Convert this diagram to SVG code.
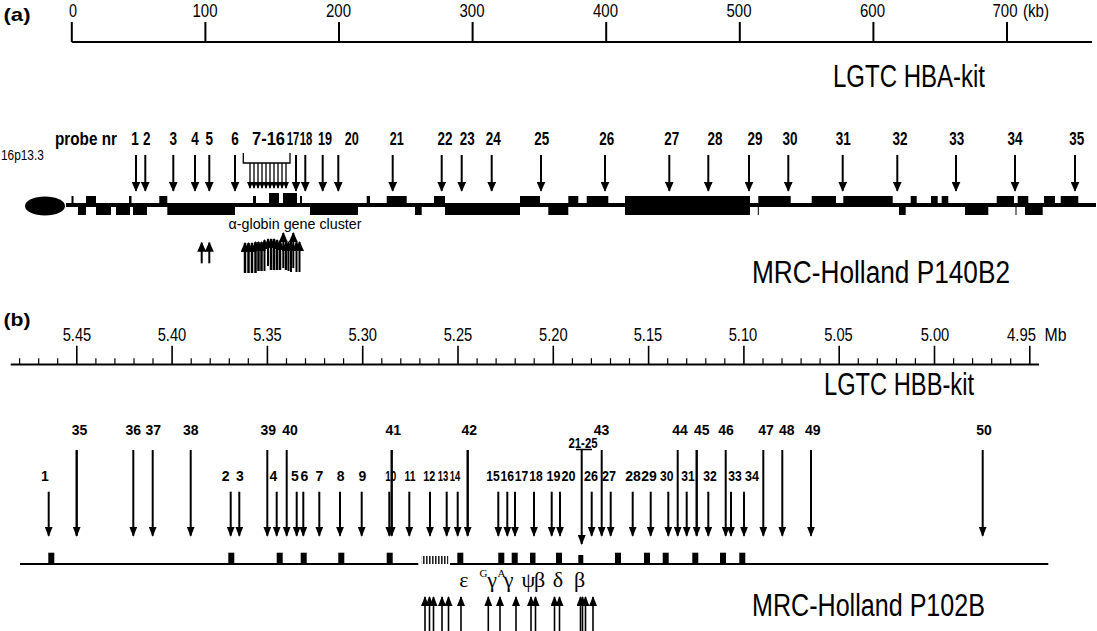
<svg xmlns="http://www.w3.org/2000/svg" width="1097" height="631" viewBox="0 0 1097 631">
<defs>
<style>
text{font-family:"Liberation Sans",Arial,sans-serif;fill:#000}
.pl{font-weight:bold;font-size:19px}
.ax{font-size:18px;text-anchor:middle}
.na{font-weight:bold;font-size:18px;text-anchor:middle}
.nb{font-weight:bold;font-size:14px;text-anchor:middle}
.chr{font-size:15px}
.glob{font-size:14px;text-anchor:middle}
.big{font-size:31px}
.gk{font-family:"Liberation Serif","Times New Roman",serif;font-size:22px;text-anchor:middle}
.sup{font-family:"Liberation Serif","Times New Roman",serif;font-size:11px}
.ln{stroke:#000;fill:none}
.aa{stroke:#000;stroke-width:2;marker-end:url(#ah)}
.as{stroke:#000;stroke-width:1.3;marker-end:url(#sh)}
.au{stroke:#000;stroke-width:2.5;marker-end:url(#ah)}
.ab{stroke:#000;stroke-width:2;marker-end:url(#bh)}
.abl{stroke:#000;stroke-width:2.4;marker-end:url(#bh)}
.bu{stroke:#000;stroke-width:1.6;marker-end:url(#bh)}
</style>
<marker id="ah" markerUnits="userSpaceOnUse" markerWidth="10" markerHeight="9" refX="9" refY="4.5" orient="auto" viewBox="0 0 10 9"><path d="M0,0L10,4.5L0,9z"/></marker>
<marker id="bh" markerUnits="userSpaceOnUse" markerWidth="10" markerHeight="8" refX="9" refY="4" orient="auto" viewBox="0 0 10 8"><path d="M0,0L10,4L0,8z"/></marker>
<marker id="sh" markerUnits="userSpaceOnUse" markerWidth="7" markerHeight="6" refX="6" refY="3" orient="auto" viewBox="0 0 7 6"><path d="M0,0L7,3L0,6z"/></marker>
<pattern id="hatch" width="3" height="10" patternUnits="userSpaceOnUse"><rect width="1.6" height="10" fill="#222"/></pattern>
</defs>
<rect width="1097" height="631" fill="#fff"/>

<!-- ===== Panel (a) ===== -->
<g id="panel-a-label"><text class="pl" x="3.5" y="21" textLength="27" lengthAdjust="spacingAndGlyphs">(a)</text></g>
<g id="scale-a">
<path class="ln" stroke-width="2" d="M71.8,42H1092M71.8,22V42M205.4,22V42M339,22V42M472.6,22V42M606.2,22V42M739.8,22V42M873.4,22V42M1007,22V42"/>
<text class="ax" x="73" y="17" textLength="8" lengthAdjust="spacingAndGlyphs">0</text>
<text class="ax" x="205" y="17" textLength="25" lengthAdjust="spacingAndGlyphs">100</text>
<text class="ax" x="338.5" y="17" textLength="25" lengthAdjust="spacingAndGlyphs">200</text>
<text class="ax" x="472" y="17" textLength="25" lengthAdjust="spacingAndGlyphs">300</text>
<text class="ax" x="605.5" y="17" textLength="25" lengthAdjust="spacingAndGlyphs">400</text>
<text class="ax" x="739" y="17" textLength="25" lengthAdjust="spacingAndGlyphs">500</text>
<text class="ax" x="872.5" y="17" textLength="25" lengthAdjust="spacingAndGlyphs">600</text>
<text class="ax" x="1005" y="17" textLength="25" lengthAdjust="spacingAndGlyphs">700</text>
<text class="ax" x="1036" y="17" textLength="26" lengthAdjust="spacingAndGlyphs">(kb)</text>
</g>
<g id="kit-hba"><text class="big" x="833" y="87" textLength="152" lengthAdjust="spacingAndGlyphs">LGTC HBA-kit</text></g>

<g id="probe-labels-a">
<text class="na" x="86" y="145" textLength="62" lengthAdjust="spacingAndGlyphs">probe nr</text>
<text class="chr" transform="translate(1,160) scale(0.79,1)">16p13.3</text>
<text class="na" x="135" y="145" textLength="7.5" lengthAdjust="spacingAndGlyphs">1</text>
<text class="na" x="146.7" y="145" textLength="7.5" lengthAdjust="spacingAndGlyphs">2</text>
<text class="na" x="173.3" y="145" textLength="7.5" lengthAdjust="spacingAndGlyphs">3</text>
<text class="na" x="195" y="145" textLength="7.5" lengthAdjust="spacingAndGlyphs">4</text>
<text class="na" x="209.3" y="145" textLength="7.5" lengthAdjust="spacingAndGlyphs">5</text>
<text class="na" x="235" y="145" textLength="7.5" lengthAdjust="spacingAndGlyphs">6</text>
<text class="na" x="268.5" y="145" textLength="33" lengthAdjust="spacingAndGlyphs">7-16</text>
<text class="na" x="293" y="145" textLength="12.5" lengthAdjust="spacingAndGlyphs">17</text>
<text class="na" x="306" y="145" textLength="12.5" lengthAdjust="spacingAndGlyphs">18</text>
<text class="na" x="325" y="145" textLength="14" lengthAdjust="spacingAndGlyphs">19</text>
<text class="na" x="351.7" y="145" textLength="14" lengthAdjust="spacingAndGlyphs">20</text>
<text class="na" x="396.7" y="145" textLength="14" lengthAdjust="spacingAndGlyphs">21</text>
<text class="na" x="445" y="145" textLength="15" lengthAdjust="spacingAndGlyphs">22</text>
<text class="na" x="467.3" y="145" textLength="15" lengthAdjust="spacingAndGlyphs">23</text>
<text class="na" x="493.3" y="145" textLength="15" lengthAdjust="spacingAndGlyphs">24</text>
<text class="na" x="541.7" y="145" textLength="15" lengthAdjust="spacingAndGlyphs">25</text>
<text class="na" x="606.7" y="145" textLength="15" lengthAdjust="spacingAndGlyphs">26</text>
<text class="na" x="671.7" y="145" textLength="15" lengthAdjust="spacingAndGlyphs">27</text>
<text class="na" x="715" y="145" textLength="15" lengthAdjust="spacingAndGlyphs">28</text>
<text class="na" x="755" y="145" textLength="15" lengthAdjust="spacingAndGlyphs">29</text>
<text class="na" x="790" y="145" textLength="15" lengthAdjust="spacingAndGlyphs">30</text>
<text class="na" x="843.3" y="145" textLength="15" lengthAdjust="spacingAndGlyphs">31</text>
<text class="na" x="900" y="145" textLength="15" lengthAdjust="spacingAndGlyphs">32</text>
<text class="na" x="956.7" y="145" textLength="15" lengthAdjust="spacingAndGlyphs">33</text>
<text class="na" x="1015" y="145" textLength="15" lengthAdjust="spacingAndGlyphs">34</text>
<text class="na" x="1076.7" y="145" textLength="15" lengthAdjust="spacingAndGlyphs">35</text>
</g>

<g id="chromosome-a">
<ellipse cx="45" cy="206" rx="20" ry="9.5" fill="#000"/>
<rect x="66" y="203" width="1030" height="4" fill="#000"/>
<g fill="#000">
<rect x="71.5" y="196" width="2" height="9"/>
<rect x="78" y="205" width="8" height="10"/>
<rect x="86" y="196" width="10" height="9"/>
<rect x="96" y="205" width="15" height="10"/>
<rect x="116" y="205" width="14" height="10"/>
<rect x="129" y="196" width="2.5" height="9"/>
<rect x="133" y="205" width="14" height="10"/>
<rect x="159.3" y="196" width="8" height="9"/>
<rect x="167.3" y="205" width="67.7" height="10"/>
<rect x="253" y="196" width="3" height="9"/>
<rect x="269" y="193" width="10" height="12"/>
<rect x="283" y="193" width="14" height="12"/>
<rect x="300" y="196" width="2" height="9"/>
<rect x="310" y="205" width="48" height="10"/>
<rect x="366.7" y="196" width="3.3" height="9"/>
<rect x="386.7" y="196" width="20" height="9"/>
<rect x="415" y="205" width="6.7" height="10"/>
<rect x="434" y="196" width="11" height="9"/>
<rect x="445" y="205" width="75" height="10"/>
<rect x="520" y="196" width="20" height="9"/>
<rect x="548.3" y="205" width="20" height="10"/>
<rect x="568.3" y="196" width="10" height="9"/>
<rect x="586.7" y="196" width="21.6" height="9"/>
<rect x="625" y="196" width="125" height="19"/>
<rect x="757.8" y="205" width="1" height="10"/>
<rect x="758.3" y="196" width="32.4" height="9"/>
<rect x="811.7" y="196" width="24.3" height="9"/>
<rect x="843.3" y="196" width="49.4" height="9"/>
<rect x="899" y="205" width="6.7" height="10"/>
<rect x="910.7" y="196" width="6" height="9"/>
<rect x="931" y="196" width="6.7" height="9"/>
<rect x="941.7" y="196" width="6.6" height="9"/>
<rect x="965" y="205" width="23.3" height="10"/>
<rect x="996.7" y="196" width="17.3" height="9"/>
<rect x="1015.5" y="205" width="1" height="10"/>
<rect x="1017.7" y="196" width="10.6" height="9"/>
<rect x="1025" y="205" width="17.7" height="10"/>
<rect x="1044" y="196" width="11" height="9"/>
<rect x="1060.7" y="196" width="17.6" height="9"/>
</g>
<text class="glob" x="295" y="229" textLength="133" lengthAdjust="spacingAndGlyphs">α-globin gene cluster</text>
</g>

<g id="mrc-p140b2"><text class="big" x="752" y="283" textLength="258" lengthAdjust="spacingAndGlyphs">MRC-Holland P140B2</text></g>

<g id="connectors-a">
<line class="aa" x1="136" y1="155" x2="136" y2="190.7"/>
<line class="aa" x1="145.3" y1="155" x2="145.3" y2="190.7"/>
<line class="aa" x1="173.3" y1="155" x2="173.3" y2="190.7"/>
<line class="aa" x1="195" y1="155" x2="195" y2="190.7"/>
<line class="aa" x1="209.3" y1="155" x2="209.3" y2="190.7"/>
<line class="aa" x1="235" y1="155" x2="235" y2="190.7"/>
<line class="aa" x1="296" y1="155" x2="296" y2="190.7"/>
<line class="aa" x1="305.3" y1="155" x2="305.3" y2="190.7"/>
<line class="aa" x1="322.7" y1="155" x2="322.7" y2="190.7"/>
<line class="aa" x1="338.3" y1="155" x2="338.3" y2="190.7"/>
<line class="aa" x1="392.7" y1="155" x2="392.7" y2="190.7"/>
<line class="aa" x1="441.7" y1="155" x2="441.7" y2="190.7"/>
<line class="aa" x1="461.7" y1="155" x2="461.7" y2="190.7"/>
<line class="aa" x1="491.7" y1="155" x2="491.7" y2="190.7"/>
<line class="aa" x1="541" y1="155" x2="541" y2="190.7"/>
<line class="aa" x1="605" y1="155" x2="605" y2="190.7"/>
<line class="aa" x1="669.3" y1="155" x2="669.3" y2="190.7"/>
<line class="aa" x1="708.3" y1="155" x2="708.3" y2="190.7"/>
<line class="aa" x1="749" y1="155" x2="749" y2="190.7"/>
<line class="aa" x1="788.3" y1="155" x2="788.3" y2="190.7"/>
<line class="aa" x1="842.7" y1="155" x2="842.7" y2="190.7"/>
<line class="aa" x1="897.3" y1="155" x2="897.3" y2="190.7"/>
<line class="aa" x1="956" y1="155" x2="956" y2="190.7"/>
<line class="aa" x1="1015" y1="155" x2="1015" y2="190.7"/>
<line class="aa" x1="1075" y1="155" x2="1075" y2="190.7"/>
<path class="ln" stroke-width="1.3" d="M243.3,153V163H290V153"/>
<line class="as" x1="250" y1="163" x2="250" y2="188"/>
<line class="as" x1="254" y1="163" x2="254" y2="188"/>
<line class="as" x1="258" y1="163" x2="258" y2="188"/>
<line class="as" x1="262" y1="163" x2="262" y2="188"/>
<line class="as" x1="266" y1="163" x2="266" y2="188"/>
<line class="as" x1="270" y1="163" x2="270" y2="188"/>
<line class="as" x1="274" y1="163" x2="274" y2="188"/>
<line class="as" x1="278" y1="163" x2="278" y2="188"/>
<line class="as" x1="282" y1="163" x2="282" y2="188"/>
<line class="as" x1="286" y1="163" x2="286" y2="188"/>
<line class="aa" x1="201.7" y1="263.3" x2="201.7" y2="242.7"/>
<line class="aa" x1="209.3" y1="263.3" x2="209.3" y2="242.7"/>
<line class="au" x1="245" y1="273" x2="245" y2="243"/>
<line class="au" x1="248.5" y1="273" x2="248.5" y2="243"/>
<line class="au" x1="252" y1="273" x2="252" y2="243"/>
<line class="au" x1="255.5" y1="273" x2="255.5" y2="242"/>
<line class="au" x1="258.5" y1="271" x2="258.5" y2="242"/>
<line class="au" x1="261.5" y1="271" x2="261.5" y2="242"/>
<line class="aa" x1="264.5" y1="271" x2="264.5" y2="240"/>
<line class="aa" x1="268" y1="266" x2="268" y2="239"/>
<line class="au" x1="271" y1="270" x2="271" y2="239"/>
<line class="au" x1="274" y1="270" x2="274" y2="239"/>
<line class="au" x1="277" y1="270" x2="277" y2="240"/>
<line class="au" x1="280" y1="270" x2="280" y2="241"/>
<line class="aa" x1="283.3" y1="268" x2="283.3" y2="233"/>
<line class="au" x1="286" y1="270" x2="286" y2="242"/>
<line class="aa" x1="288.5" y1="271" x2="288.5" y2="242"/>
<line class="aa" x1="291" y1="272" x2="291" y2="242"/>
<line class="aa" x1="293.3" y1="268" x2="293.3" y2="233"/>
<line class="aa" x1="296.5" y1="272" x2="296.5" y2="242"/>
<line class="aa" x1="299.5" y1="272" x2="299.5" y2="242"/>
</g>

<!-- ===== Panel (b) ===== -->
<g id="panel-b-label"><text class="pl" x="3.5" y="326" textLength="27" lengthAdjust="spacingAndGlyphs">(b)</text></g>
<g id="scale-b">
<path class="ln" stroke-width="2" d="M10.7,364.6H1039"/>
<path class="ln" stroke-width="1.6" d="M76.8,345.7V364.6M172.1,345.7V364.6M267.4,345.7V364.6M362.7,345.7V364.6M458,345.7V364.6M553.3,345.7V364.6M648.6,345.7V364.6M743.9,345.7V364.6M839.2,345.7V364.6M934.5,345.7V364.6M1029.8,345.7V364.6"/>
<path class="ln" stroke-width="1.2" d="M19.6,358.2V364.6M38.7,358.2V364.6M57.7,358.2V364.6M95.9,358.2V364.6M114.9,358.2V364.6M134,358.2V364.6M153,358.2V364.6M191.2,358.2V364.6M210.2,358.2V364.6M229.3,358.2V364.6M248.3,358.2V364.6M286.5,358.2V364.6M305.5,358.2V364.6M324.6,358.2V364.6M343.6,358.2V364.6M381.8,358.2V364.6M400.8,358.2V364.6M419.9,358.2V364.6M438.9,358.2V364.6M477.1,358.2V364.6M496.1,358.2V364.6M515.2,358.2V364.6M534.2,358.2V364.6M572.4,358.2V364.6M591.4,358.2V364.6M610.5,358.2V364.6M629.5,358.2V364.6M667.7,358.2V364.6M686.7,358.2V364.6M705.8,358.2V364.6M724.8,358.2V364.6M763,358.2V364.6M782,358.2V364.6M801.1,358.2V364.6M820.1,358.2V364.6M858.3,358.2V364.6M877.3,358.2V364.6M896.4,358.2V364.6M915.4,358.2V364.6M953.6,358.2V364.6M972.6,358.2V364.6M991.7,358.2V364.6M1010.7,358.2V364.6"/>
<text class="ax" x="77" y="340.5" textLength="28.6" lengthAdjust="spacingAndGlyphs">5.45</text>
<text class="ax" x="172" y="340.5" textLength="28.6" lengthAdjust="spacingAndGlyphs">5.40</text>
<text class="ax" x="267.5" y="340.5" textLength="28.6" lengthAdjust="spacingAndGlyphs">5.35</text>
<text class="ax" x="362.7" y="340.5" textLength="28.6" lengthAdjust="spacingAndGlyphs">5.30</text>
<text class="ax" x="458" y="340.5" textLength="28.6" lengthAdjust="spacingAndGlyphs">5.25</text>
<text class="ax" x="553.3" y="340.5" textLength="28.6" lengthAdjust="spacingAndGlyphs">5.20</text>
<text class="ax" x="648" y="340.5" textLength="28.6" lengthAdjust="spacingAndGlyphs">5.15</text>
<text class="ax" x="743" y="340.5" textLength="28.6" lengthAdjust="spacingAndGlyphs">5.10</text>
<text class="ax" x="838.5" y="340.5" textLength="28.6" lengthAdjust="spacingAndGlyphs">5.05</text>
<text class="ax" x="935" y="340.5" textLength="28.6" lengthAdjust="spacingAndGlyphs">5.00</text>
<text class="ax" x="1021.5" y="340.5" textLength="29" lengthAdjust="spacingAndGlyphs">4.95</text>
<text class="ax" x="1055.5" y="340.5" textLength="22" lengthAdjust="spacingAndGlyphs">Mb</text>
</g>
<g id="kit-hbb"><text class="big" x="824" y="395" textLength="150" lengthAdjust="spacingAndGlyphs">LGTC HBB-kit</text></g>

<g id="probe-labels-b">
<text class="nb" x="79.5" y="435">35</text>
<text class="nb" x="133.3" y="435">36</text>
<text class="nb" x="153.3" y="435">37</text>
<text class="nb" x="190.7" y="435">38</text>
<text class="nb" x="268.3" y="435">39</text>
<text class="nb" x="290" y="435">40</text>
<text class="nb" x="393.3" y="435">41</text>
<text class="nb" x="469.3" y="435">42</text>
<text class="nb" x="601.5" y="435">43</text>
<text class="nb" x="680" y="435">44</text>
<text class="nb" x="701.7" y="435">45</text>
<text class="nb" x="726" y="435">46</text>
<text class="nb" x="766" y="435">47</text>
<text class="nb" x="786.7" y="435">48</text>
<text class="nb" x="812.7" y="435">49</text>
<text class="nb" x="984" y="435">50</text>
<text class="nb" x="583" y="447.5" font-size="12" textLength="29" lengthAdjust="spacingAndGlyphs">21-25</text>
<text class="nb" x="45" y="480.7">1</text>
<text class="nb" x="225.7" y="480.7">2</text>
<text class="nb" x="240" y="480.7">3</text>
<text class="nb" x="273.3" y="480.7">4</text>
<text class="nb" x="295" y="480.7">5</text>
<text class="nb" x="304.3" y="480.7">6</text>
<text class="nb" x="319.3" y="480.7">7</text>
<text class="nb" x="340.7" y="480.7">8</text>
<text class="nb" x="362.3" y="480.7">9</text>
<text class="nb" x="390.7" y="480.7" textLength="11" lengthAdjust="spacingAndGlyphs">10</text>
<text class="nb" x="410" y="480.7" textLength="11" lengthAdjust="spacingAndGlyphs">11</text>
<text class="nb" x="429.3" y="480.7" textLength="12" lengthAdjust="spacingAndGlyphs">12</text>
<text class="nb" x="443" y="480.7" textLength="10.5" lengthAdjust="spacingAndGlyphs">13</text>
<text class="nb" x="455" y="480.7" textLength="10.5" lengthAdjust="spacingAndGlyphs">14</text>
<text class="nb" x="493" y="480.7" textLength="13.5" lengthAdjust="spacingAndGlyphs">15</text>
<text class="nb" x="507.2" y="480.7" textLength="13.5" lengthAdjust="spacingAndGlyphs">16</text>
<text class="nb" x="521.5" y="480.7" textLength="13.5" lengthAdjust="spacingAndGlyphs">17</text>
<text class="nb" x="536" y="480.7" textLength="13.5" lengthAdjust="spacingAndGlyphs">18</text>
<text class="nb" x="553.5" y="480.7" textLength="14" lengthAdjust="spacingAndGlyphs">19</text>
<text class="nb" x="568.5" y="480.7" textLength="14" lengthAdjust="spacingAndGlyphs">20</text>
<text class="nb" x="591" y="480.7" textLength="14" lengthAdjust="spacingAndGlyphs">26</text>
<text class="nb" x="609" y="480.7" textLength="14" lengthAdjust="spacingAndGlyphs">27</text>
<text class="nb" x="633" y="480.7">28</text>
<text class="nb" x="649" y="480.7">29</text>
<text class="nb" x="666.7" y="480.7" textLength="13.5" lengthAdjust="spacingAndGlyphs">30</text>
<text class="nb" x="688" y="480.7" textLength="13.5" lengthAdjust="spacingAndGlyphs">31</text>
<text class="nb" x="710" y="480.7" textLength="13.5" lengthAdjust="spacingAndGlyphs">32</text>
<text class="nb" x="735" y="480.7" textLength="13.5" lengthAdjust="spacingAndGlyphs">33</text>
<text class="nb" x="752" y="480.7" textLength="14" lengthAdjust="spacingAndGlyphs">34</text>
</g>

<g id="locus-b">
<path class="ln" stroke-width="2" d="M20,564H418.3M450,564H1048.3"/>
<rect x="421.7" y="556" width="26.6" height="8" fill="url(#hatch)"/>
<g fill="#000">
<rect x="48.3" y="552.7" width="6" height="11.3"/>
<rect x="228.3" y="552.7" width="6" height="11.3"/>
<rect x="276.7" y="552.7" width="6" height="11.3"/>
<rect x="300.7" y="552.7" width="6" height="11.3"/>
<rect x="338.3" y="552.7" width="6" height="11.3"/>
<rect x="386.7" y="552.7" width="6" height="11.3"/>
<rect x="457.3" y="552.7" width="6" height="11.3"/>
<rect x="498.3" y="552.7" width="6" height="11.3"/>
<rect x="511.7" y="552.7" width="6" height="11.3"/>
<rect x="530" y="552.7" width="5.5" height="11.3"/>
<rect x="556" y="552.7" width="6" height="11.3"/>
<rect x="578.3" y="555" width="5" height="9"/>
<rect x="615" y="552.7" width="6" height="11.3"/>
<rect x="644" y="552.7" width="6" height="11.3"/>
<rect x="662.7" y="552.7" width="6" height="11.3"/>
<rect x="692.3" y="552.7" width="6" height="11.3"/>
<rect x="720" y="552.7" width="6" height="11.3"/>
<rect x="739.3" y="552.7" width="6" height="11.3"/>
</g>
<text class="gk" x="463.8" y="586.7">ε</text>
<text class="sup" x="479.5" y="577">G</text>
<text class="gk" x="492" y="586.7">γ</text>
<text class="sup" x="497.5" y="577">A</text>
<text class="gk" x="508.5" y="586.7">γ</text>
<text class="gk" x="528.5" y="586.7">ψ</text>
<text class="gk" x="539.5" y="586.7">β</text>
<text class="gk" x="558" y="586.7">δ</text>
<text class="gk" x="579.5" y="586.7">β</text>
</g>

<g id="mrc-p102b"><text class="big" x="752" y="616" textLength="233" lengthAdjust="spacingAndGlyphs">MRC-Holland P102B</text></g>

<g id="connectors-b">
<line class="abl" x1="76.7" y1="450" x2="76.7" y2="535.7"/>
<line class="ab" x1="133.3" y1="450" x2="133.3" y2="535.7"/>
<line class="ab" x1="152.7" y1="450" x2="152.7" y2="535.7"/>
<line class="ab" x1="190.7" y1="450" x2="190.7" y2="535.7"/>
<line class="ab" x1="267.3" y1="450" x2="267.3" y2="535.7"/>
<line class="ab" x1="286.7" y1="450" x2="286.7" y2="535.7"/>
<line class="abl" x1="391.7" y1="450" x2="391.7" y2="535.7"/>
<line class="abl" x1="467.7" y1="450" x2="467.7" y2="535.7"/>
<line class="ab" x1="601.7" y1="450" x2="601.7" y2="535.7"/>
<line class="ab" x1="677.7" y1="450" x2="677.7" y2="535.7"/>
<line class="abl" x1="696.7" y1="450" x2="696.7" y2="535.7"/>
<line class="ab" x1="725.7" y1="450" x2="725.7" y2="535.7"/>
<line class="ab" x1="763.3" y1="450" x2="763.3" y2="535.7"/>
<line class="ab" x1="782.3" y1="450" x2="782.3" y2="535.7"/>
<line class="ab" x1="811" y1="450" x2="811" y2="535.7"/>
<line class="ab" x1="982.7" y1="450" x2="982.7" y2="535.7"/>
<line class="ab" x1="48.7" y1="491.7" x2="48.7" y2="535.7"/>
<line class="ab" x1="230.7" y1="491.7" x2="230.7" y2="535.7"/>
<line class="ab" x1="239.3" y1="491.7" x2="239.3" y2="535.7"/>
<line class="ab" x1="276.7" y1="491.7" x2="276.7" y2="535.7"/>
<line class="ab" x1="296.7" y1="491.7" x2="296.7" y2="535.7"/>
<line class="ab" x1="303.3" y1="491.7" x2="303.3" y2="535.7"/>
<line class="ab" x1="319.3" y1="491.7" x2="319.3" y2="535.7"/>
<line class="ab" x1="340" y1="491.7" x2="340" y2="535.7"/>
<line class="ab" x1="361.7" y1="491.7" x2="361.7" y2="535.7"/>
<line class="ab" x1="389.3" y1="491.7" x2="389.3" y2="535.7"/>
<line class="ab" x1="409.3" y1="491.7" x2="409.3" y2="535.7"/>
<line class="ab" x1="430" y1="491.7" x2="430" y2="535.7"/>
<line class="ab" x1="446.7" y1="491.7" x2="446.7" y2="535.7"/>
<line class="ab" x1="457.7" y1="491.7" x2="457.7" y2="535.7"/>
<line class="ab" x1="498.3" y1="491.7" x2="498.3" y2="535.7"/>
<line class="ab" x1="507.3" y1="491.7" x2="507.3" y2="535.7"/>
<line class="ab" x1="515" y1="491.7" x2="515" y2="535.7"/>
<line class="ab" x1="534" y1="491.7" x2="534" y2="535.7"/>
<line class="ab" x1="551.7" y1="491.7" x2="551.7" y2="535.7"/>
<line class="ab" x1="560" y1="491.7" x2="560" y2="535.7"/>
<line class="ab" x1="591.7" y1="491.7" x2="591.7" y2="535.7"/>
<line class="ab" x1="610.7" y1="491.7" x2="610.7" y2="535.7"/>
<line class="ab" x1="632.7" y1="491.7" x2="632.7" y2="535.7"/>
<line class="ab" x1="650.7" y1="491.7" x2="650.7" y2="535.7"/>
<line class="ab" x1="668.3" y1="491.7" x2="668.3" y2="535.7"/>
<line class="ab" x1="686.7" y1="491.7" x2="686.7" y2="535.7"/>
<line class="ab" x1="708.3" y1="491.7" x2="708.3" y2="535.7"/>
<line class="ab" x1="731" y1="491.7" x2="731" y2="535.7"/>
<line class="ab" x1="744" y1="491.7" x2="744" y2="535.7"/>
<path class="ln" stroke-width="1.5" d="M576,449.5H592"/>
<line class="ab" x1="581.7" y1="449.5" x2="581.7" y2="544"/>
<line class="bu" x1="425" y1="631" x2="425" y2="597"/>
<line class="bu" x1="429.5" y1="631" x2="429.5" y2="597"/>
<line class="bu" x1="433.5" y1="631" x2="433.5" y2="597"/>
<line class="bu" x1="442" y1="631" x2="442" y2="597"/>
<line class="bu" x1="448.5" y1="631" x2="448.5" y2="597"/>
<line class="bu" x1="461" y1="631" x2="461" y2="597"/>
<line class="bu" x1="488.3" y1="631" x2="488.3" y2="597"/>
<line class="bu" x1="500" y1="631" x2="500" y2="597"/>
<line class="bu" x1="516" y1="631" x2="516" y2="597"/>
<line class="bu" x1="531" y1="631" x2="531" y2="597"/>
<line class="bu" x1="535.5" y1="631" x2="535.5" y2="597"/>
<line class="bu" x1="554.5" y1="631" x2="554.5" y2="597"/>
<line class="bu" x1="559.5" y1="631" x2="559.5" y2="597"/>
<line class="bu" x1="580.5" y1="631" x2="580.5" y2="597"/>
<line class="bu" x1="582.5" y1="631" x2="582.5" y2="597"/>
<line class="bu" x1="585.5" y1="631" x2="585.5" y2="597"/>
<line class="bu" x1="593" y1="631" x2="593" y2="597"/>
</g>
</svg>
